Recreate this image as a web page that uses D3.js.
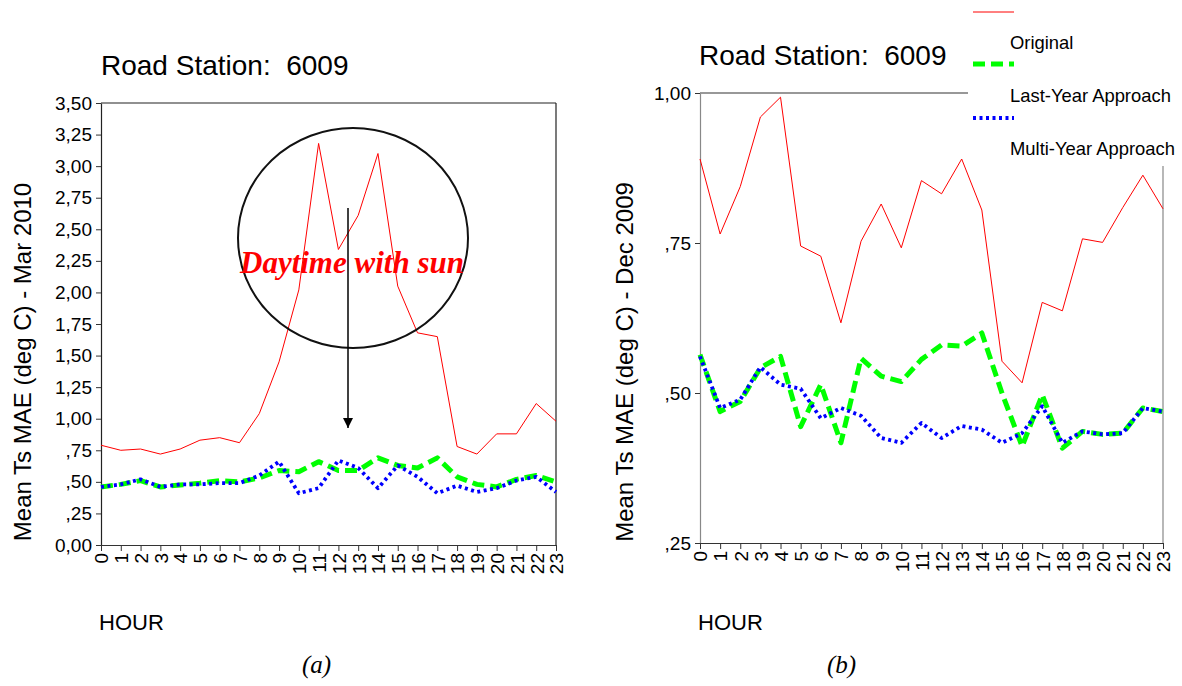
<!DOCTYPE html>
<html>
<head>
<meta charset="utf-8">
<script src="https://cdn.jsdelivr.net/npm/d3@7"></script>
<style>
  html, body { margin: 0; padding: 0; background: #fff; }
  svg { display: block; }
  text { font-family: "Liberation Sans", Arial, sans-serif; }
</style>
</head>
<body>
<svg id="chart" width="1182" height="686"></svg>
<script>
// ---------- DATA ----------
const hours = [0,1,2,3,4,5,6,7,8,9,10,11,12,13,14,15,16,17,18,19,20,21,22,23];

// Panel (a) – Mar 2010
const marOriginal  = [0.79,0.75,0.76,0.72,0.76,0.83,0.85,0.81,1.04,1.45,2.02,3.18,2.34,2.61,3.10,2.05,1.68,1.65,0.78,0.72,0.88,0.88,1.12,0.98];
const marLastYear  = [0.46,0.48,0.51,0.46,0.475,0.49,0.51,0.50,0.53,0.59,0.58,0.66,0.59,0.59,0.69,0.63,0.61,0.69,0.54,0.48,0.46,0.52,0.55,0.50];
const marMultiYear = [0.46,0.48,0.52,0.46,0.48,0.48,0.49,0.49,0.55,0.66,0.41,0.45,0.67,0.61,0.45,0.63,0.54,0.41,0.47,0.42,0.45,0.51,0.54,0.42];

// Panel (b) – Dec 2009
const decOriginal  = [0.89,0.765,0.844,0.96,0.993,0.745,0.728,0.617,0.753,0.815,0.742,0.854,0.832,0.89,0.805,0.553,0.517,0.651,0.637,0.757,0.751,0.809,0.863,0.807];
const decLastYear  = [0.564,0.469,0.486,0.542,0.561,0.444,0.514,0.417,0.558,0.528,0.519,0.556,0.580,0.578,0.600,0.500,0.411,0.497,0.408,0.436,0.431,0.433,0.475,0.469];
const decMultiYear = [0.561,0.475,0.489,0.543,0.514,0.507,0.458,0.475,0.462,0.425,0.417,0.450,0.425,0.445,0.439,0.417,0.433,0.478,0.417,0.436,0.431,0.433,0.475,0.469];

// Tick labels
const marYTicks  = [0,0.25,0.5,0.75,1.0,1.25,1.5,1.75,2.0,2.25,2.5,2.75,3.0,3.25,3.5];
const marYLabels = ["0,00",",25",",50",",75","1,00","1,25","1,50","1,75","2,00","2,25","2,50","2,75","3,00","3,25","3,50"];
const decYTicks  = [0.25,0.5,0.75,1.0];
const decYLabels = [",25",",50",",75","1,00"];

const seriesNames = ["Original","Last-Year Approach","Multi-Year Approach"];
const titleText = "Road Station:  6009";

// ---------- DRAW ----------
const svg = d3.select("#chart");

const styles = [
  {stroke:"#ff0000", width:1,   dash:null},
  {stroke:"#00ff00", width:5,   dash:"12,6"},
  {stroke:"#0000ff", width:3.8, dash:"3,3.5"}
];

function panel(opts) {
  const g = svg.append("g");
  const x = d3.scaleLinear().domain([0,23]).range([opts.x0, opts.x1]);
  const y = d3.scaleLinear().domain(opts.yDomain).range([opts.y0, opts.y1]);

  // frame: top and right
  g.append("line").attr("x1",opts.x0).attr("x2",opts.x1).attr("y1",opts.y1).attr("y2",opts.y1)
    .attr("stroke",opts.topColor).attr("stroke-width",1.2);
  g.append("line").attr("x1",opts.x1).attr("x2",opts.x1).attr("y1",opts.y1).attr("y2",opts.y0)
    .attr("stroke",opts.sideColor).attr("stroke-width",1.2);

  // y axis
  const ya = g.append("g").attr("transform",`translate(${opts.x0},0)`)
    .call(d3.axisLeft(y).tickValues(opts.yTicks).tickFormat((d,i)=>opts.yLabels[i])
      .tickSize(5).tickSizeOuter(0).tickPadding(4));
  ya.select(".domain").attr("stroke",opts.sideColor).attr("stroke-width",1.2);
  ya.selectAll(".tick line").attr("stroke","#333");
  ya.selectAll("text").style("font-size","19px").style("font-family","Liberation Sans, Arial, sans-serif").style("fill","#000");

  // x axis
  const xa = g.append("g").attr("transform",`translate(0,${opts.y0})`)
    .call(d3.axisBottom(x).tickValues(hours).tickFormat(d=>String(d)).tickSize(6).tickSizeOuter(0));
  xa.select(".domain").attr("stroke","#333").attr("stroke-width",1.2);
  xa.selectAll(".tick line").attr("stroke","#333");
  xa.selectAll("text")
    .attr("transform","rotate(-90)")
    .attr("x",-8).attr("y",0).attr("dy","0.36em")
    .attr("text-anchor","end")
    .style("font-size","19px").style("font-family","Liberation Sans, Arial, sans-serif").style("fill","#000");

  // lines
  const line = d3.line().x((d,i)=>x(hours[i])).y(d=>y(d));
  opts.series.forEach((s,k)=>{
    g.append("path").datum(s)
      .attr("d",line)
      .attr("fill","none")
      .attr("stroke",styles[k].stroke)
      .attr("stroke-width",styles[k].width)
      .attr("stroke-dasharray",styles[k].dash)
      .attr("stroke-linejoin","round");
  });

  // title
  g.append("text").attr("x",opts.titleX).attr("y",opts.titleY)
    .attr("xml:space","preserve").style("white-space","pre")
    .style("font-size","28px").style("fill","#000").text(titleText);

  // y label
  g.append("text")
    .attr("transform",`translate(${opts.ylabX},362) rotate(-90)`)
    .attr("text-anchor","middle")
    .style("font-size","24px").style("fill","#000").text(opts.ylab);

  // HOUR
  g.append("text").attr("x",opts.x0-2).attr("y",630).style("font-size","22px").style("fill","#000").text("HOUR");

  // panel letter
  g.append("text").attr("x",opts.letterX).attr("y",673)
    .style("font-family","Liberation Serif, 'Times New Roman', serif")
    .style("font-style","italic").style("font-size","25px").style("fill","#000").text(opts.letter);

  return {g,x,y};
}

const A = panel({
  x0:101, x1:556, y0:545, y1:103, yDomain:[0,3.5],
  yTicks:marYTicks, yLabels:marYLabels,
  series:[marOriginal, marLastYear, marMultiYear],
  topColor:"#222", sideColor:"#222",
  titleX:101, titleY:75, ylabX:31,
  ylab:"Mean Ts MAE (deg C) - Mar 2010",
  letter:"(a)", letterX:302
});

const B = panel({
  x0:700, x1:1163, y0:543, y1:93, yDomain:[0.25,1.0],
  yTicks:decYTicks, yLabels:decYLabels,
  series:[decOriginal, decLastYear, decMultiYear],
  topColor:"#333", sideColor:"#888",
  titleX:699, titleY:65, ylabX:633,
  ylab:"Mean Ts MAE (deg C) - Dec 2009",
  letter:"(b)", letterX:827
});

// annotation on panel (a)
const ann = A.g.append("g");
ann.append("ellipse").attr("cx",353).attr("cy",238).attr("rx",115).attr("ry",110)
  .attr("fill","none").attr("stroke","#111").attr("stroke-width",2);
svg.append("defs").append("marker").attr("id","arrow")
  .attr("viewBox","0 0 10 10").attr("refX",10).attr("refY",5)
  .attr("markerWidth",10).attr("markerHeight",10).attr("markerUnits","userSpaceOnUse")
  .attr("orient","auto")
  .append("path").attr("d","M0,0 L10,5 L0,10 Z").attr("fill","#000");
ann.append("line").attr("x1",348).attr("x2",348).attr("y1",208).attr("y2",428)
  .attr("stroke","#000").attr("stroke-width",1.5).attr("marker-end","url(#arrow)");
ann.append("text").attr("x",240).attr("y",273)
  .style("font-family","Liberation Serif, 'Times New Roman', serif")
  .style("font-style","italic").style("font-weight","bold").style("font-size","31px")
  .style("fill","#ff0000").text("Daytime with sun");

// legend (panel b)
const leg = svg.append("g");
leg.append("rect").attr("x",968).attr("y",0).attr("width",214).attr("height",166).attr("fill","#fff");
const legY = [12,64,118];
const legTextY = [49,102,155];
seriesNames.forEach((n,k)=>{
  leg.append("line").attr("x1",973).attr("x2",1014).attr("y1",legY[k]).attr("y2",legY[k])
    .attr("stroke",styles[k].stroke).attr("stroke-width",styles[k].width)
    .attr("stroke-dasharray",styles[k].dash);
  leg.append("text").attr("x",1010).attr("y",legTextY[k]).style("font-size","18.4px").style("fill","#000").text(n);
});
</script>
</body>
</html>
